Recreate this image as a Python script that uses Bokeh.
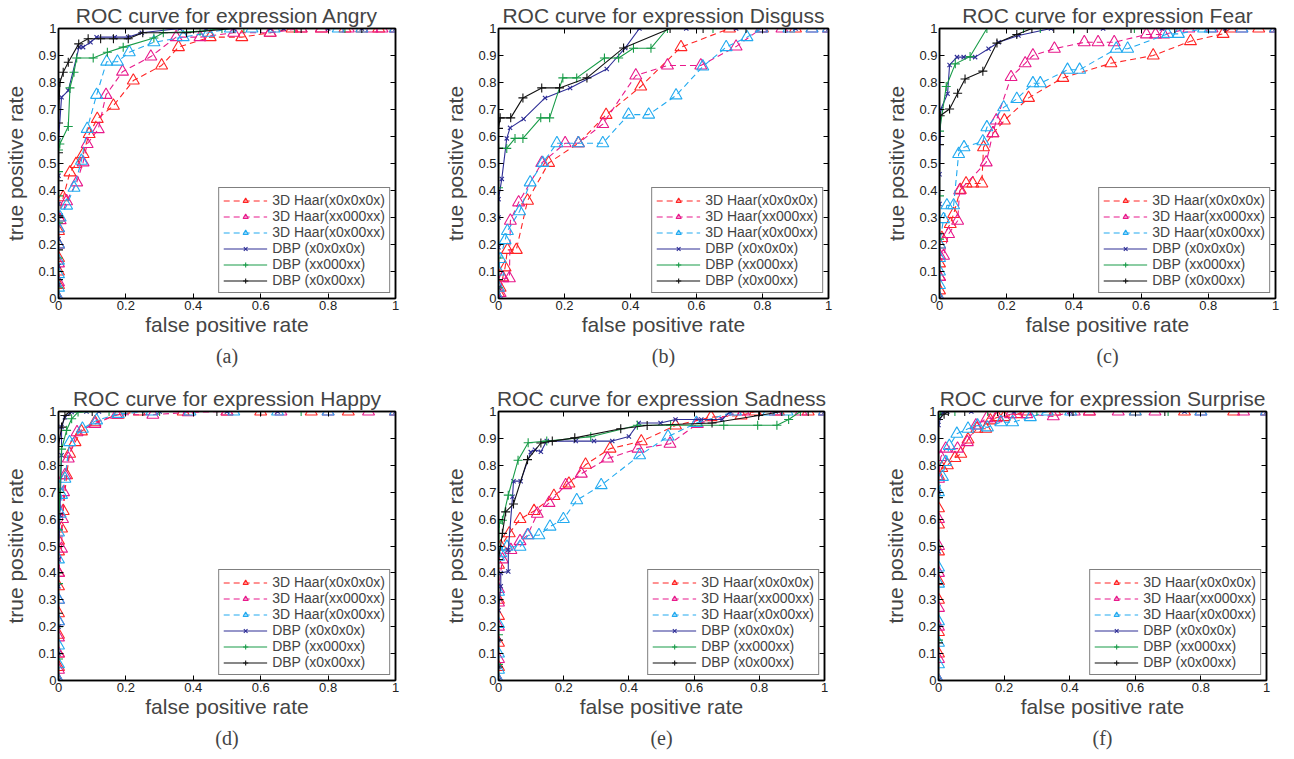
from bokeh.plotting import figure
from bokeh.models import (Range1d, FixedTicker, CustomJSTickFormatter, LinearAxis,
                          Legend, LegendItem, Title)
from bokeh.layouts import row, column
from bokeh.embed import file_html
from bokeh.resources import INLINE

# ---------------- data ----------------
LABELS = ["3D Haar(x0x0x0x)", "3D Haar(xx000xx)", "3D Haar(x0x00xx)",
          "DBP (x0x0x0x)", "DBP (xx000xx)", "DBP (x0x00xx)"]
X_TICKS = [0, 0.2, 0.4, 0.6, 0.8, 1]
Y_TICKS = [0, 0.1, 0.2, 0.3, 0.4, 0.5, 0.6, 0.7, 0.8, 0.9, 1]

# Angry
angry_h1_x = [0, 0, 0, 0, 0, 0, 0, 0.014, 0.034, 0.052, 0.073, 0.091, 0.115, 0.163, 0.222, 0.306, 0.356, 0.45, 0.544, 0.628, 0.693, 0.72, 0.78, 0.85, 0.9, 0.95, 1.0]
angry_h1_y = [0, 0.05, 0.1, 0.15, 0.2, 0.25, 0.3, 0.375, 0.467, 0.498, 0.535, 0.609, 0.665, 0.714, 0.807, 0.863, 0.931, 0.968, 0.968, 0.984, 1, 1, 1, 1, 1, 1, 1]
angry_h2_x = [0, 0, 0, 0, 0, 0.005, 0.024, 0.054, 0.073, 0.085, 0.118, 0.141, 0.19, 0.274, 0.349, 0.42, 0.52, 0.628, 0.72, 0.78, 0.86, 0.93, 0.96, 1.0]
angry_h2_y = [0, 0.06, 0.13, 0.2, 0.26, 0.29, 0.36, 0.43, 0.504, 0.572, 0.627, 0.754, 0.84, 0.896, 0.968, 0.968, 0.984, 0.984, 1, 1, 1, 1, 1, 1]
angry_h3_x = [0, 0, 0, 0, 0, 0, 0.005, 0.024, 0.046, 0.068, 0.085, 0.113, 0.143, 0.175, 0.21, 0.283, 0.37, 0.445, 0.51, 0.574, 0.64, 0.83, 0.9, 1.0]
angry_h3_y = [0, 0.04, 0.09, 0.14, 0.2, 0.26, 0.3, 0.344, 0.41, 0.51, 0.628, 0.754, 0.877, 0.877, 0.912, 0.949, 0.968, 0.984, 1, 1, 1, 1, 1, 1]
angry_d1_x = [0, 0, 0, 0, 0, 0, 0, 0.009, 0.029, 0.061, 0.073, 0.095, 0.113, 0.167, 0.207, 0.247, 0.36, 0.438, 0.52, 0.628, 0.668, 0.8, 0.9, 1.0]
angry_d1_y = [0, 0.05, 0.12, 0.22, 0.35, 0.455, 0.585, 0.745, 0.77, 0.931, 0.931, 0.949, 0.968, 0.968, 0.968, 0.984, 1, 1, 1, 1, 1, 1, 1, 1]
angry_d2_x = [0, 0, 0, 0, 0, 0, 0, 0.004, 0.029, 0.034, 0.046, 0.054, 0.103, 0.145, 0.192, 0.283, 0.311, 0.42, 0.485, 0.55, 0.7, 0.85, 1.0]
angry_d2_y = [0, 0.04, 0.15, 0.28, 0.38, 0.47, 0.55, 0.572, 0.637, 0.78, 0.838, 0.891, 0.891, 0.912, 0.931, 0.965, 0.984, 0.99, 1, 1, 1, 1, 1]
angry_d3_x = [0, 0, 0, 0, 0, 0, 0, 0.004, 0.014, 0.029, 0.06, 0.088, 0.125, 0.163, 0.207, 0.25, 0.38, 0.52, 0.6, 0.72, 0.9, 1.0]
angry_d3_y = [0, 0.07, 0.18, 0.306, 0.436, 0.54, 0.65, 0.80, 0.838, 0.875, 0.943, 0.962, 0.962, 0.962, 0.962, 0.984, 0.984, 1, 1, 1, 1, 1]

# Disgust ("Disguss" in the original)
disg_h1_x = [0, 0, 0.005, 0.013, 0.02, 0.027, 0.054, 0.088, 0.152, 0.242, 0.326, 0.431, 0.553, 0.70, 0.8, 0.9, 1.0]
disg_h1_y = [0, 0.02, 0.04, 0.078, 0.115, 0.18, 0.18, 0.362, 0.502, 0.575, 0.68, 0.785, 0.931, 1, 1, 1, 1]
disg_h2_x = [0, 0.005, 0.013, 0.033, 0.036, 0.061, 0.131, 0.202, 0.242, 0.316, 0.416, 0.512, 0.613, 0.72, 0.796, 0.859, 0.95, 1.0]
disg_h2_y = [0, 0.02, 0.075, 0.075, 0.288, 0.356, 0.502, 0.575, 0.575, 0.646, 0.826, 0.863, 0.863, 0.933, 1, 1, 1, 1]
disg_h3_x = [0, 0, 0, 0.005, 0.02, 0.027, 0.064, 0.096, 0.134, 0.177, 0.242, 0.316, 0.394, 0.455, 0.538, 0.619, 0.69, 0.753, 0.798, 0.88, 0.95, 1.0]
disg_h3_y = [0, 0.04, 0.1, 0.146, 0.216, 0.25, 0.323, 0.43, 0.502, 0.575, 0.575, 0.575, 0.681, 0.681, 0.752, 0.859, 0.931, 0.968, 1, 1, 1, 1]
disg_d1_x = [0, 0, 0, 0, 0, 0.01, 0.025, 0.035, 0.076, 0.141, 0.217, 0.328, 0.384, 0.427, 0.569, 0.72, 0.9, 1.0]
disg_d1_y = [0, 0.04, 0.19, 0.3, 0.368, 0.443, 0.593, 0.632, 0.665, 0.743, 0.78, 0.85, 0.928, 1, 1, 1, 1, 1]
disg_d2_x = [0, 0, 0, 0, 0, 0, 0.025, 0.05, 0.074, 0.128, 0.155, 0.195, 0.237, 0.321, 0.364, 0.409, 0.462, 0.512, 0.65, 0.8, 1.0]
disg_d2_y = [0, 0.04, 0.15, 0.3, 0.41, 0.556, 0.556, 0.593, 0.593, 0.669, 0.669, 0.817, 0.817, 0.891, 0.891, 0.927, 0.927, 1, 1, 1, 1]
disg_d3_x = [0, 0, 0, 0, 0, 0.005, 0.037, 0.074, 0.131, 0.185, 0.268, 0.379, 0.52, 0.62, 0.75, 0.87, 1.0]
disg_d3_y = [0, 0.07, 0.3, 0.556, 0.63, 0.669, 0.669, 0.743, 0.78, 0.78, 0.817, 0.928, 1, 1, 1, 1, 1]

# Fear
fear_h1_x = [0, 0, 0, 0, 0, 0.007, 0.032, 0.042, 0.062, 0.079, 0.099, 0.126, 0.131, 0.159, 0.193, 0.265, 0.367, 0.51, 0.636, 0.747, 0.844, 0.866, 0.95, 1.0]
fear_h1_y = [0, 0.03, 0.08, 0.13, 0.2, 0.224, 0.276, 0.313, 0.402, 0.426, 0.426, 0.426, 0.56, 0.612, 0.659, 0.743, 0.817, 0.871, 0.90, 0.953, 0.98, 1, 1, 1]
fear_h2_x = [0, 0, 0, 0.012, 0.027, 0.054, 0.06, 0.139, 0.159, 0.169, 0.213, 0.255, 0.278, 0.342, 0.431, 0.472, 0.52, 0.616, 0.643, 0.667, 0.742, 0.811, 0.9, 1.0]
fear_h2_y = [0, 0.08, 0.16, 0.158, 0.239, 0.288, 0.4, 0.504, 0.612, 0.659, 0.82, 0.871, 0.90, 0.925, 0.949, 0.949, 0.949, 0.978, 0.978, 0.978, 1, 1, 1, 1]
fear_h3_x = [0, 0, 0, 0, 0, 0.012, 0.022, 0.042, 0.057, 0.073, 0.129, 0.141, 0.191, 0.23, 0.278, 0.3, 0.381, 0.417, 0.526, 0.56, 0.679, 0.711, 0.786, 0.806, 0.9, 1.0]
fear_h3_y = [0, 0.05, 0.1, 0.15, 0.2, 0.294, 0.345, 0.345, 0.535, 0.56, 0.582, 0.634, 0.708, 0.739, 0.797, 0.797, 0.847, 0.847, 0.925, 0.925, 0.98, 0.98, 1, 1, 1, 1]
fear_d1_x = [0, 0, 0, 0.004, 0.024, 0.03, 0.052, 0.072, 0.106, 0.146, 0.176, 0.235, 0.332, 0.487, 0.662, 0.85, 1.0]
fear_d1_y = [0, 0.35, 0.46, 0.702, 0.758, 0.865, 0.894, 0.894, 0.894, 0.925, 0.949, 0.974, 1, 1, 1, 1, 1]
fear_d2_x = [0, 0, 0, 0, 0.02, 0.047, 0.091, 0.141, 0.25, 0.3, 0.4, 0.58, 0.8, 1.0]
fear_d2_y = [0, 0.22, 0.38, 0.62, 0.785, 0.869, 0.896, 1, 1, 1, 1, 1, 1, 1]
fear_d3_x = [0, 0, 0, 0.002, 0.03, 0.054, 0.076, 0.129, 0.171, 0.23, 0.275, 0.34, 0.44, 0.57, 0.7, 0.85, 1.0]
fear_d3_y = [0, 0.24, 0.57, 0.677, 0.702, 0.76, 0.813, 0.842, 0.946, 0.978, 1, 1, 1, 1, 1, 1, 1]

# Happy
happy_h1_x = [0, 0, 0, 0, 0, 0, 0, 0, 0, 0.009, 0.014, 0.024, 0.033, 0.049, 0.068, 0.108, 0.177, 0.24, 0.37, 0.5, 0.6, 0.75, 0.86, 1.0]
happy_h1_y = [0, 0.05, 0.1, 0.17, 0.25, 0.35, 0.4, 0.48, 0.52, 0.565, 0.63, 0.763, 0.843, 0.886, 0.926, 0.96, 0.988, 1, 1, 1, 1, 1, 1, 1]
happy_h2_x = [0, 0, 0, 0, 0, 0, 0, 0.009, 0.012, 0.015, 0.019, 0.029, 0.055, 0.108, 0.172, 0.28, 0.385, 0.5, 0.66, 0.8, 0.92, 1.0]
happy_h2_y = [0, 0.04, 0.1, 0.16, 0.22, 0.3, 0.4, 0.49, 0.6, 0.7, 0.763, 0.825, 0.923, 0.954, 0.988, 0.988, 0.997, 1, 1, 1, 1, 1]
happy_h3_x = [0, 0, 0, 0, 0, 0, 0, 0.005, 0.009, 0.019, 0.033, 0.071, 0.113, 0.177, 0.277, 0.39, 0.52, 0.65, 0.8, 1.0]
happy_h3_y = [0, 0.06, 0.13, 0.22, 0.3, 0.45, 0.55, 0.62, 0.69, 0.75, 0.886, 0.936, 0.967, 0.991, 1, 1, 1, 1, 1, 1]
happy_d1_x = [0, 0, 0, 0, 0, 0.004, 0.009, 0.009, 0.019, 0.039, 0.083, 0.12, 0.3, 0.5, 0.65, 1.0]
happy_d1_y = [0, 0.1, 0.2, 0.35, 0.45, 0.615, 0.837, 0.942, 0.979, 0.998, 1, 1, 1, 1, 1, 1]
happy_d2_x = [0, 0, 0, 0, 0, 0.004, 0.009, 0.024, 0.039, 0.058, 0.15, 0.3, 0.72, 1.0]
happy_d2_y = [0, 0.08, 0.2, 0.36, 0.56, 0.7, 0.86, 0.93, 0.973, 0.998, 1, 1, 1, 1]
happy_d3_x = [0, 0, 0, 0, 0, 0, 0.009, 0.019, 0.034, 0.1, 0.25, 0.47, 0.6, 1.0]
happy_d3_y = [0, 0.1, 0.25, 0.4, 0.62, 0.87, 0.942, 0.985, 1, 1, 1, 1, 1, 1]

# Sadness
sad_h1_x = [0, 0, 0, 0, 0, 0, 0.007, 0.033, 0.066, 0.109, 0.17, 0.216, 0.267, 0.342, 0.438, 0.543, 0.652, 0.744, 0.788, 0.859, 0.95, 1.0]
sad_h1_y = [0, 0.05, 0.14, 0.24, 0.3, 0.43, 0.498, 0.547, 0.6, 0.63, 0.686, 0.732, 0.802, 0.862, 0.889, 0.948, 0.979, 0.985, 1, 1, 1, 1]
sad_h2_x = [0, 0, 0, 0, 0, 0.012, 0.038, 0.066, 0.089, 0.119, 0.155, 0.206, 0.254, 0.334, 0.428, 0.526, 0.61, 0.752, 0.849, 0.928, 1.0]
sad_h2_y = [0, 0.08, 0.2, 0.29, 0.34, 0.45, 0.485, 0.518, 0.54, 0.62, 0.66, 0.726, 0.769, 0.825, 0.862, 0.88, 0.954, 1, 1, 1, 1]
sad_h3_x = [0, 0, 0, 0, 0, 0, 0.007, 0.026, 0.066, 0.091, 0.124, 0.158, 0.199, 0.24, 0.315, 0.433, 0.52, 0.607, 0.727, 0.829, 0.885, 1.0]
sad_h3_y = [0, 0.04, 0.1, 0.21, 0.33, 0.46, 0.473, 0.497, 0.497, 0.54, 0.54, 0.572, 0.6, 0.67, 0.726, 0.837, 0.907, 0.957, 1, 1, 1, 1]
sad_d1_x = [0, 0, 0, 0, 0.007, 0.007, 0.03, 0.03, 0.043, 0.046, 0.068, 0.099, 0.112, 0.13, 0.148, 0.237, 0.293, 0.349, 0.4, 0.43, 0.497, 0.543, 0.622, 0.686, 0.711, 0.85, 1.0]
sad_d1_y = [0, 0.05, 0.15, 0.26, 0.35, 0.4, 0.405, 0.485, 0.683, 0.741, 0.741, 0.849, 0.858, 0.85, 0.89, 0.89, 0.89, 0.89, 0.907, 0.957, 0.957, 0.97, 0.97, 0.97, 1, 1, 1]
sad_d2_x = [0, 0, 0, 0, 0, 0.002, 0.012, 0.03, 0.06, 0.091, 0.148, 0.283, 0.426, 0.528, 0.691, 0.795, 0.854, 0.89, 0.926, 1.0]
sad_d2_y = [0, 0.06, 0.17, 0.3, 0.45, 0.585, 0.596, 0.689, 0.819, 0.884, 0.89, 0.906, 0.949, 0.949, 0.949, 0.949, 0.949, 0.97, 1, 1]
sad_d3_x = [0, 0, 0, 0, 0, 0.012, 0.022, 0.046, 0.089, 0.13, 0.165, 0.234, 0.375, 0.456, 0.655, 0.798, 0.869, 0.95, 1.0]
sad_d3_y = [0, 0.05, 0.15, 0.3, 0.45, 0.547, 0.627, 0.656, 0.821, 0.883, 0.89, 0.902, 0.936, 0.948, 0.957, 0.985, 1, 1, 1]

# Surprise
surp_h1_x = [0, 0, 0, 0, 0, 0, 0, 0, 0, 0.01, 0.027, 0.05, 0.068, 0.09, 0.117, 0.144, 0.158, 0.18, 0.2, 0.24, 0.266, 0.355, 0.46, 0.6, 0.75, 0.9, 1.0]
surp_h1_y = [0, 0.1, 0.18, 0.3, 0.37, 0.48, 0.58, 0.64, 0.76, 0.79, 0.8, 0.827, 0.843, 0.896, 0.936, 0.936, 0.967, 0.979, 0.979, 0.99, 1, 1, 1, 1, 1, 1, 1]
surp_h2_x = [0, 0, 0, 0, 0, 0, 0, 0, 0.007, 0.022, 0.058, 0.088, 0.114, 0.147, 0.175, 0.22, 0.269, 0.35, 0.414, 0.46, 0.548, 0.66, 0.8, 0.93, 1.0]
surp_h2_y = [0, 0.08, 0.2, 0.27, 0.4, 0.5, 0.6, 0.75, 0.831, 0.862, 0.862, 0.886, 0.948, 0.975, 0.975, 0.99, 0.99, 0.982, 1, 1, 1, 1, 1, 1, 1]
surp_h3_x = [0, 0, 0, 0, 0, 0, 0, 0.012, 0.022, 0.033, 0.056, 0.09, 0.119, 0.149, 0.19, 0.226, 0.28, 0.332, 0.403, 0.6, 0.8, 1.0]
surp_h3_y = [0, 0.06, 0.14, 0.22, 0.36, 0.42, 0.7, 0.757, 0.812, 0.872, 0.917, 0.936, 0.948, 0.941, 0.96, 0.96, 0.979, 1, 1, 1, 1, 1]
surp_d1_x = [0, 0, 0, 0, 0, 0.012, 0.027, 0.1, 0.23, 0.4, 0.75, 1.0]
surp_d1_y = [0, 0.2, 0.48, 0.7, 0.95, 0.995, 1, 1, 1, 1, 1, 1]
surp_d2_x = [0, 0, 0, 0, 0.007, 0.05, 0.15, 0.3, 0.7, 1.0]
surp_d2_y = [0, 0.15, 0.5, 0.97, 1, 1, 1, 1, 1, 1]
surp_d3_x = [0, 0, 0, 0, 0, 0.017, 0.03, 0.08, 0.18, 0.41, 0.69, 1.0]
surp_d3_y = [0, 0.14, 0.36, 0.68, 0.97, 0.99, 1, 1, 1, 1, 1, 1]

# ---------------- styles ----------------
COLORS = ["#ff2424", "#e8198b", "#22aaf0", "#2e2e96", "#189c48", "#111111"]
DASHES = ["6 4", "6 4", "6 4", "solid", "solid", "solid"]
MARKERS = ["triangle", "triangle", "triangle", "x", "cross", "cross"]
MSIZES = [12, 12, 12, 6, 9, 9]
SANS = "Liberation Sans"


def make_panel(title, letter, series, width, height, left, right, top, bottom):
    p = figure(width=width, height=height, x_range=Range1d(0, 1), y_range=Range1d(0, 1),
               output_backend="svg", toolbar_location=None,
               min_border_left=left, min_border_right=right,
               min_border_top=top, min_border_bottom=bottom)
    p.background_fill_color = "white"
    p.border_fill_color = "white"
    p.xgrid.visible = False
    p.ygrid.visible = False
    p.outline_line_color = "black"
    p.outline_line_width = 1.5

    p.title.text = title
    p.title.text_font = SANS
    p.title.text_font_size = "21px"
    p.title.text_font_style = "normal"
    p.title.align = "center"
    p.title.standoff = 3

    fmt = CustomJSTickFormatter(code="return (Math.round(tick*10)/10).toString();")
    for ax, ticks in ((p.xaxis[0], X_TICKS), (p.yaxis[0], Y_TICKS)):
        ax.ticker = FixedTicker(ticks=ticks)
        ax.formatter = fmt
        ax.major_tick_in = 5
        ax.major_tick_out = 0
        ax.minor_tick_line_color = None
        ax.axis_line_width = 1.5
        ax.major_label_text_font = SANS
        ax.major_label_text_font_size = "13px"
        ax.major_label_text_color = "#222222"
        ax.major_label_standoff = 2
        ax.axis_label_text_font = SANS
        ax.axis_label_text_font_size = "21px"
        ax.axis_label_text_font_style = "normal"
    p.xaxis.axis_label = "false positive rate"
    p.yaxis.axis_label = "true positive rate"
    p.xaxis.axis_label_standoff = 0
    p.yaxis.axis_label_standoff = 8

    for side, ticks in (("above", X_TICKS), ("right", Y_TICKS)):
        ax = LinearAxis(ticker=FixedTicker(ticks=ticks), major_label_text_font_size="0px",
                        major_label_text_color=None,
                        major_tick_in=5, major_tick_out=0, minor_tick_line_color=None,
                        major_label_standoff=0, axis_line_width=1.5)
        p.add_layout(ax, side)

    items = []
    for i, (xs, ys) in enumerate(series):
        ln = p.line(xs, ys, line_color=COLORS[i], line_width=1.1, line_dash=DASHES[i])
        sc = p.scatter(xs, ys, marker=MARKERS[i], size=MSIZES[i], line_color=COLORS[i],
                       fill_color=None, line_width=1.1)
        items.append(LegendItem(label=LABELS[i], renderers=[ln, sc]))
    leg = Legend(items=items, location="bottom_right")
    leg.label_text_font = SANS
    leg.label_text_font_size = "14px"
    leg.label_height = 13
    leg.glyph_height = 13
    leg.glyph_width = 44
    leg.spacing = 0
    leg.padding = 4
    leg.margin = 5
    leg.label_standoff = 5
    leg.border_line_color = "black"
    leg.border_line_width = 1.5
    leg.background_fill_alpha = 1
    p.add_layout(leg)

    sub = Title(text=letter, align="center", text_font="Liberation Serif",
                text_font_size="20px", text_font_style="normal", standoff=8)
    p.add_layout(sub, "below")
    return p


pa = make_panel("ROC curve for expression Angry", "(a)",
                [(angry_h1_x, angry_h1_y), (angry_h2_x, angry_h2_y), (angry_h3_x, angry_h3_y),
                 (angry_d1_x, angry_d1_y), (angry_d2_x, angry_d2_y), (angry_d3_x, angry_d3_y)],
                438, 383, 58, 43, 28, 85)
pb = make_panel("ROC curve for expression Disguss", "(b)",
                [(disg_h1_x, disg_h1_y), (disg_h2_x, disg_h2_y), (disg_h3_x, disg_h3_y),
                 (disg_d1_x, disg_d1_y), (disg_d2_x, disg_d2_y), (disg_d3_x, disg_d3_y)],
                430, 383, 60, 40, 28, 85)
pc = make_panel("ROC curve for expression Fear", "(c)",
                [(fear_h1_x, fear_h1_y), (fear_h2_x, fear_h2_y), (fear_h3_x, fear_h3_y),
                 (fear_d1_x, fear_d1_y), (fear_d2_x, fear_d2_y), (fear_d3_x, fear_d3_y)],
                426, 383, 71, 19, 28, 85)
pd = make_panel("ROC curve for expression Happy", "(d)",
                [(happy_h1_x, happy_h1_y), (happy_h2_x, happy_h2_y), (happy_h3_x, happy_h3_y),
                 (happy_d1_x, happy_d1_y), (happy_d2_x, happy_d2_y), (happy_d3_x, happy_d3_y)],
                438, 376, 58, 43, 26, 79)
pe = make_panel("ROC curve for expression Sadness", "(e)",
                [(sad_h1_x, sad_h1_y), (sad_h2_x, sad_h2_y), (sad_h3_x, sad_h3_y),
                 (sad_d1_x, sad_d1_y), (sad_d2_x, sad_d2_y), (sad_d3_x, sad_d3_y)],
                430, 376, 60, 44, 26, 79)
pf = make_panel("ROC curve for expression Surprise", "(f)",
                [(surp_h1_x, surp_h1_y), (surp_h2_x, surp_h2_y), (surp_h3_x, surp_h3_y),
                 (surp_d1_x, surp_d1_y), (surp_d2_x, surp_d2_y), (surp_d3_x, surp_d3_y)],
                426, 376, 70, 28, 26, 79)

layout = column(row(pa, pb, pc), row(pd, pe, pf))
open("out.html", "w").write(file_html(layout, INLINE))
